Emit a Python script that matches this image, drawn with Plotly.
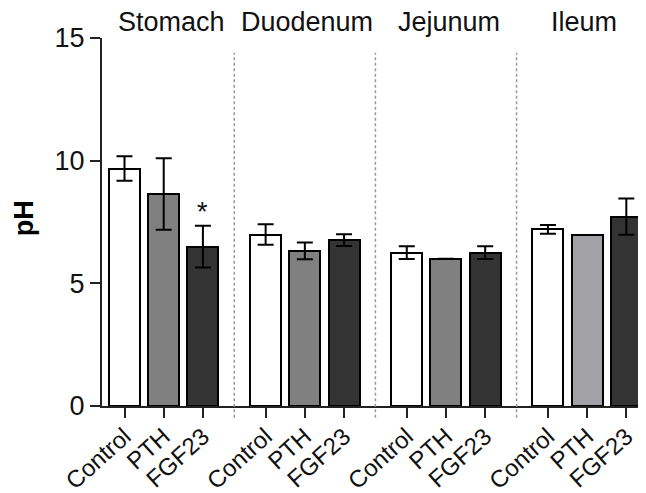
import plotly.graph_objects as go

# ---- data ----
groups = ["Stomach", "Duodenum", "Jejunum", "Ileum"]
treatments = ["Control", "PTH", "FGF23"]
ph_control = [9.68, 6.99, 6.25, 7.20]
ph_pth = [8.64, 6.32, 6.00, 6.97]
ph_fgf23 = [6.50, 6.76, 6.25, 7.72]
sem_control = [0.50, 0.42, 0.26, 0.18]
sem_pth = [1.46, 0.34, 0.00, 0.00]
sem_fgf23 = [0.85, 0.24, 0.26, 0.74]
significant = [("Stomach", "FGF23", "*")]
y_ticks = [0, 5, 10, 15]

means = {"Control": ph_control, "PTH": ph_pth, "FGF23": ph_fgf23}
sems = {"Control": sem_control, "PTH": sem_pth, "FGF23": sem_fgf23}

# ---- styling ----
FONT = "Liberation Sans, Arial, sans-serif"
group_step = 3.6
colors = {
    "Control": ["#ffffff"] * 4,
    "PTH": ["#808080", "#808080", "#808080", "#a2a2a6"],
    "FGF23": ["#333333"] * 4,
}

def xpos(g, i):
    return g * group_step + i

fig = go.Figure()
for i, t in enumerate(treatments):
    fig.add_trace(go.Bar(
        x=[xpos(g, i) for g in range(len(groups))],
        y=means[t],
        width=0.79,
        marker=dict(color=colors[t], line=dict(color="black", width=2)),
        error_y=dict(type="data", array=sems[t], visible=True,
                     color="black", thickness=2, width=8),
        name=t,
        showlegend=False,
    ))

tickvals, ticktext = [], []
for g in range(len(groups)):
    for i, t in enumerate(treatments):
        tickvals.append(xpos(g, i))
        ticktext.append(t)

# dashed separators between groups
for g in range(len(groups) - 1):
    xm = (xpos(g, len(treatments) - 1) + xpos(g + 1, 0)) / 2
    fig.add_shape(type="line", xref="x", yref="paper", x0=xm, x1=xm,
                  y0=-0.032, y1=0.96,
                  line=dict(color="#9a9a9a", width=1.5, dash="3px,2.5px"))

annotations = []
label_shift = [8, 2, 3, -3]
for g, name in enumerate(groups):
    annotations.append(dict(
        x=xpos(g, 1), y=15, xref="x", yref="y", text=name, showarrow=False,
        xanchor="center", yanchor="middle", yshift=16.5, xshift=label_shift[g],
        font=dict(family=FONT, size=27, color="#111111")))

for gname, tname, mark in significant:
    g = groups.index(gname)
    i = treatments.index(tname)
    annotations.append(dict(
        x=xpos(g, i), y=means[tname][g] + sems[tname][g], xref="x", yref="y",
        text=mark, showarrow=False, xanchor="center", yanchor="bottom", yshift=-3,
        font=dict(family=FONT, size=27, color="#111111")))

annotations.append(dict(
    x=0, y=0.51, xref="paper", yref="paper", text="<b>pH</b>", showarrow=False,
    textangle=-90, xanchor="center", yanchor="middle", xshift=-78,
    font=dict(family=FONT, size=27, color="black")))

# the page body has an 8px default margin, so the figure is 8px smaller
fig.update_layout(
    width=638, height=485,
    margin=dict(l=94, r=4, t=30, b=87, autoexpand=False),
    paper_bgcolor="white", plot_bgcolor="white",
    bargap=0, barmode="overlay",
    annotations=annotations,
    font=dict(family=FONT, color="#111111"),
)
fig.update_xaxes(
    range=[-0.574, 13.2], tickmode="array", tickvals=tickvals, ticktext=ticktext,
    tickangle=-42, ticks="outside", ticklen=10, tickwidth=2, tickcolor="#222222",
    ticklabelstandoff=-5,
    showline=True, linecolor="#222222", linewidth=2, showgrid=False, zeroline=False,
    automargin=False,
    tickfont=dict(family=FONT, size=24, color="#111111"),
)
fig.update_yaxes(
    range=[0, 15], tickmode="array", tickvals=y_ticks,
    ticks="outside", ticklen=10, tickwidth=2, tickcolor="#222222",
    showline=True, linecolor="#222222", linewidth=2, showgrid=False, zeroline=False,
    automargin=False,
    tickfont=dict(family=FONT, size=27, color="#111111"),
)

fig.write_html("out.html")
